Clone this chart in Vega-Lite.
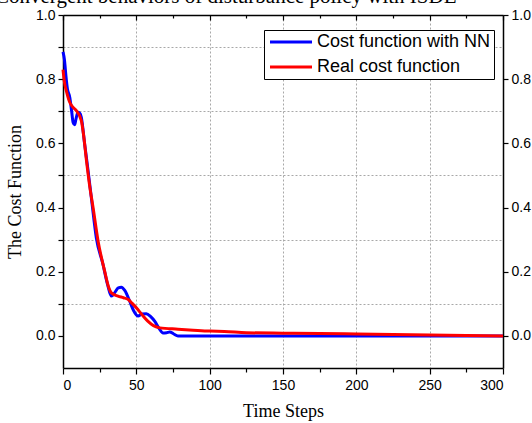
{
  "$schema": "https://vega.github.io/schema/vega-lite/v6.json",
  "width": 440,
  "height": 353,
  "autosize": {"type": "none"},
  "padding": {"left": 63, "top": 15, "right": 29, "bottom": 55},
  "background": "white",
  "title": {
    "text": "Convergent behaviors of disturbance policy with ISDE",
    "font": "Liberation Serif",
    "fontSize": 21,
    "fontWeight": "normal",
    "color": "black",
    "anchor": "start",
    "frame": "group",
    "dx": -68,
    "dy": 16,
    "baseline": "alphabetic",
    "offset": 0
  },
  "config": {
    "view": {"stroke": null},
    "axis": {
      "labelFont": "Liberation Sans",
      "labelFontSize": 14,
      "labelColor": "black",
      "titleFont": "Liberation Serif",
      "titleFontSize": 18,
      "titleFontWeight": "normal",
      "titleColor": "black",
      "domainColor": "black",
      "domainWidth": 1.5,
      "tickColor": "black",
      "tickWidth": 1.2,
      "grid": false
    },
    "legend": {
      "labelFont": "Liberation Sans",
      "labelFontSize": 18,
      "labelColor": "black"
    }
  },
  "datasets": {
    "dummy": [{"t": 0, "v": 0}],
    "curves": [
      {"series": "Cost function with NN", "t": 0, "v": 0.885},
      {"series": "Cost function with NN", "t": 1, "v": 0.86},
      {"series": "Cost function with NN", "t": 2, "v": 0.81},
      {"series": "Cost function with NN", "t": 3, "v": 0.77},
      {"series": "Cost function with NN", "t": 4.6, "v": 0.744},
      {"series": "Cost function with NN", "t": 5.9, "v": 0.70},
      {"series": "Cost function with NN", "t": 6.9, "v": 0.665},
      {"series": "Cost function with NN", "t": 7.9, "v": 0.658},
      {"series": "Cost function with NN", "t": 8.8, "v": 0.675},
      {"series": "Cost function with NN", "t": 10.2, "v": 0.697},
      {"series": "Cost function with NN", "t": 11.3, "v": 0.695},
      {"series": "Cost function with NN", "t": 12.5, "v": 0.681},
      {"series": "Cost function with NN", "t": 14.7, "v": 0.60},
      {"series": "Cost function with NN", "t": 17.1, "v": 0.515},
      {"series": "Cost function with NN", "t": 19.6, "v": 0.42},
      {"series": "Cost function with NN", "t": 22.7, "v": 0.306},
      {"series": "Cost function with NN", "t": 27.2, "v": 0.224},
      {"series": "Cost function with NN", "t": 30.4, "v": 0.16},
      {"series": "Cost function with NN", "t": 33, "v": 0.124},
      {"series": "Cost function with NN", "t": 35.3, "v": 0.135},
      {"series": "Cost function with NN", "t": 37.7, "v": 0.150},
      {"series": "Cost function with NN", "t": 39.8, "v": 0.152},
      {"series": "Cost function with NN", "t": 42.1, "v": 0.142},
      {"series": "Cost function with NN", "t": 45.5, "v": 0.108},
      {"series": "Cost function with NN", "t": 48, "v": 0.08},
      {"series": "Cost function with NN", "t": 51.2, "v": 0.062},
      {"series": "Cost function with NN", "t": 53.9, "v": 0.068},
      {"series": "Cost function with NN", "t": 56.8, "v": 0.069},
      {"series": "Cost function with NN", "t": 59.8, "v": 0.060},
      {"series": "Cost function with NN", "t": 62.5, "v": 0.046},
      {"series": "Cost function with NN", "t": 65.7, "v": 0.022},
      {"series": "Cost function with NN", "t": 68.2, "v": 0.009},
      {"series": "Cost function with NN", "t": 70.6, "v": 0.010},
      {"series": "Cost function with NN", "t": 72.8, "v": 0.0125},
      {"series": "Cost function with NN", "t": 75.5, "v": 0.006},
      {"series": "Cost function with NN", "t": 78.4, "v": 0.0},
      {"series": "Cost function with NN", "t": 100, "v": 0.0},
      {"series": "Cost function with NN", "t": 150, "v": 0.0},
      {"series": "Cost function with NN", "t": 200, "v": 0.0},
      {"series": "Cost function with NN", "t": 250, "v": 0.0},
      {"series": "Cost function with NN", "t": 300, "v": 0.0},
      {"series": "Real cost function", "t": 0, "v": 0.83},
      {"series": "Real cost function", "t": 1, "v": 0.79},
      {"series": "Real cost function", "t": 2.5, "v": 0.76},
      {"series": "Real cost function", "t": 4.6, "v": 0.728},
      {"series": "Real cost function", "t": 6.9, "v": 0.712},
      {"series": "Real cost function", "t": 9.1, "v": 0.702},
      {"series": "Real cost function", "t": 12.5, "v": 0.671},
      {"series": "Real cost function", "t": 14.2, "v": 0.62},
      {"series": "Real cost function", "t": 16, "v": 0.546},
      {"series": "Real cost function", "t": 18.1, "v": 0.47},
      {"series": "Real cost function", "t": 20.5, "v": 0.40},
      {"series": "Real cost function", "t": 23.9, "v": 0.296},
      {"series": "Real cost function", "t": 28.4, "v": 0.202},
      {"series": "Real cost function", "t": 30.9, "v": 0.155},
      {"series": "Real cost function", "t": 33, "v": 0.134},
      {"series": "Real cost function", "t": 37.5, "v": 0.124},
      {"series": "Real cost function", "t": 41.2, "v": 0.119},
      {"series": "Real cost function", "t": 44.3, "v": 0.114},
      {"series": "Real cost function", "t": 47, "v": 0.102},
      {"series": "Real cost function", "t": 50, "v": 0.0875},
      {"series": "Real cost function", "t": 53.9, "v": 0.066},
      {"series": "Real cost function", "t": 57.8, "v": 0.046},
      {"series": "Real cost function", "t": 61.7, "v": 0.032},
      {"series": "Real cost function", "t": 66, "v": 0.025},
      {"series": "Real cost function", "t": 78.4, "v": 0.021},
      {"series": "Real cost function", "t": 88.7, "v": 0.018},
      {"series": "Real cost function", "t": 100, "v": 0.015},
      {"series": "Real cost function", "t": 110, "v": 0.014},
      {"series": "Real cost function", "t": 125, "v": 0.010},
      {"series": "Real cost function", "t": 150, "v": 0.0085},
      {"series": "Real cost function", "t": 175, "v": 0.0075},
      {"series": "Real cost function", "t": 200, "v": 0.006},
      {"series": "Real cost function", "t": 250, "v": 0.003},
      {"series": "Real cost function", "t": 300, "v": 0.0}
    ]
  },
  "layer": [
    {
      "data": {"name": "dummy"},
      "mark": {"type": "point", "opacity": 0},
      "encoding": {
        "x": {
          "field": "t", "type": "quantitative",
          "scale": {"domain": [0, 300], "nice": false, "zero": false},
          "axis": {"orient": "bottom", "values": [50, 100, 150, 200, 250], "grid": true, "gridDash": [2, 2], "gridColor": "#a8a8a8", "gridWidth": 1, "domain": false, "ticks": false, "labels": false, "title": null}
        },
        "y": {
          "field": "v", "type": "quantitative",
          "scale": {"domain": [-0.1, 1.0], "nice": false, "zero": false},
          "axis": {"orient": "left", "values": [0.1, 0.3, 0.5, 0.7, 0.9], "grid": true, "gridDash": [2, 2], "gridColor": "#a8a8a8", "gridWidth": 1, "domain": false, "ticks": false, "labels": false, "title": null}
        }
      }
    },
    {
      "data": {"name": "dummy"},
      "mark": {"type": "point", "opacity": 0},
      "encoding": {
        "x": {
          "field": "t", "type": "quantitative",
          "scale": {"domain": [0, 300], "nice": false, "zero": false},
          "axis": {"orient": "top", "values": [0, 25, 50, 75, 100, 125, 150, 175, 200, 225, 250, 275, 300], "labels": false, "title": null,
            "tickSize": {"condition": {"test": "datum.value % 50 === 0", "value": -5}, "value": -3}}
        },
        "y": {
          "field": "v", "type": "quantitative",
          "scale": {"domain": [-0.1, 1.0], "nice": false, "zero": false},
          "axis": {"orient": "right", "values": [0, 0.2, 0.4, 0.6, 0.8, 1.0], "format": ".1f", "tickSize": 5, "labelPadding": 3, "title": null}
        }
      }
    },
    {
      "data": {"name": "curves"},
      "mark": {"type": "line", "interpolate": "monotone", "strokeWidth": 3},
      "encoding": {
        "x": {
          "field": "t", "type": "quantitative",
          "scale": {"domain": [0, 300], "nice": false, "zero": false},
          "axis": {"orient": "bottom", "values": [0, 25, 50, 75, 100, 125, 150, 175, 200, 225, 250, 275, 300],
            "labelExpr": "datum.value % 50 === 0 ? datum.label : ''",
            "tickSize": {"condition": {"test": "datum.value % 50 === 0", "value": 6}, "value": 4},
            "labelPadding": 4, "title": "Time Steps", "titlePadding": 10}
        },
        "y": {
          "field": "v", "type": "quantitative",
          "scale": {"domain": [-0.1, 1.0], "nice": false, "zero": false},
          "axis": {"orient": "left", "values": [0, 0.1, 0.2, 0.3, 0.4, 0.5, 0.6, 0.7, 0.8, 0.9, 1.0],
            "labelExpr": "round(datum.value * 10) % 2 === 0 ? format(datum.value, '.1f') : ''",
            "tickSize": 5, "labelPadding": 3, "title": "The Cost Function", "titlePadding": 11}
        },
        "color": {
          "field": "series", "type": "nominal",
          "scale": {"domain": ["Cost function with NN", "Real cost function"], "range": ["#0000ff", "#ff0000"]},
          "legend": {
            "title": null,
            "orient": "none",
            "legendX": 201,
            "legendY": 15,
            "symbolType": "M-1,0H6",
            "symbolSize": 144,
            "symbolStrokeWidth": 3,
            "labelOffset": 32,
            "labelLimit": 0,
            "rowPadding": 7,
            "padding": 3,
            "strokeColor": "black",
            "fillColor": "white"
          }
        }
      }
    }
  ],
  "resolve": {"axis": {"x": "independent", "y": "independent"}}
}
